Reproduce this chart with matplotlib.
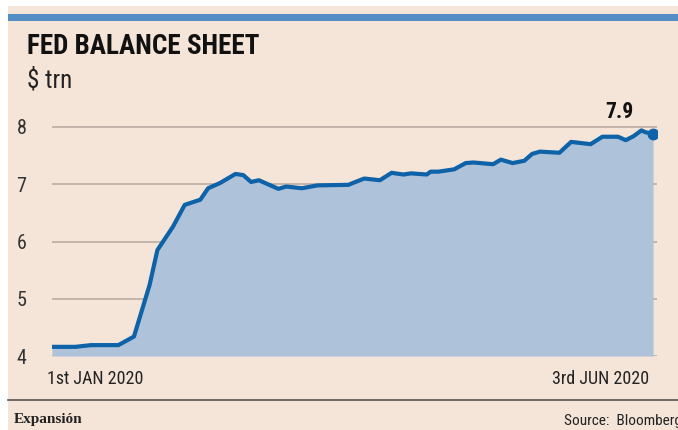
import matplotlib
matplotlib.use("Agg")
import matplotlib.pyplot as plt
from matplotlib.patches import Rectangle
from matplotlib.lines import Line2D
from matplotlib import font_manager

# days since 1 Jan 2020, balance sheet in $ trn
days = [0, 6, 10, 17, 21, 25, 27, 31, 34, 38, 40, 43, 47, 49, 51, 53, 58, 60,
        64, 68, 76, 77, 80, 84, 87, 90, 92, 96, 97, 99, 103, 106, 108, 113,
        115, 118, 121, 123, 125, 130, 133, 138, 141, 145, 147, 149, 151, 152,
        154]
values = [4.16, 4.16, 4.19, 4.19, 4.34, 5.24, 5.85, 6.26, 6.64, 6.73, 6.93,
          7.02, 7.18, 7.16, 7.04, 7.07, 6.92, 6.96, 6.93, 6.98, 6.99, 7.02,
          7.10, 7.07, 7.20, 7.17, 7.19, 7.17, 7.22, 7.22, 7.26, 7.37, 7.38,
          7.35, 7.43, 7.37, 7.41, 7.53, 7.57, 7.55, 7.74, 7.70, 7.83, 7.83,
          7.77, 7.84, 7.94, 7.91, 7.88]
yticks = [4, 5, 6, 7, 8]
start_label = "1st JAN 2020"
end_label = "3rd JUN 2020"
last_label = "7.9"

BG = "#f5e4d8"
LINE = "#0d62a8"
FILL = "#aec2da"
GRID = "#b9aca2"

names = {f.name for f in font_manager.fontManager.ttflist}
for cand in ["Liberation Sans Narrow", "Roboto Condensed", "Open Sans Condensed"]:
    if cand in names:
        narrow = cand
        break
else:
    narrow = "DejaVu Sans"
plt.rcParams["font.family"] = [narrow, "DejaVu Sans"]
plt.rcParams["font.stretch"] = "condensed"

fig = plt.figure(figsize=(6.78, 4.30), dpi=100)
fig.patch.set_facecolor("white")
W, H = 678, 430

def fx(px):
    return px / W

def fy(py):
    return 1 - py / H

# beige panel and blue bar on top
fig.patches.append(Rectangle((fx(8), 0), 1 - fx(8), fy(6), transform=fig.transFigure,
                             facecolor=BG, edgecolor="none", zorder=-2))
fig.patches.append(Rectangle((fx(8), fy(21)), 1 - fx(8), fy(14) - fy(21),
                             transform=fig.transFigure, facecolor="#548cc4",
                             edgecolor="none", zorder=-1))
fig.lines.append(Line2D([fx(8), 1], [fy(400), fy(400)], transform=fig.transFigure,
                        color="#555555", lw=1.2))

fig.text(fx(27), fy(47), "FED BALANCE SHEET", fontsize=19.5, fontweight="bold",
         va="center", ha="left", color="#111111")
fig.text(fx(27), fy(80), "$ trn", fontsize=18, va="center", ha="left",
         color="#222222")
fig.text(fx(14), fy(420), "Expansión", fontsize=11, fontweight="bold",
         family="Liberation Serif", va="center", ha="left", color="#222222")
fig.text(fx(564), fy(421), "Source:  Bloomberg", fontsize=11, va="center",
         ha="left", color="#222222")

left, right = fx(52), fx(657)
bottom = fy(356)
ymin, ymax = 4, 8.4
top = fy(127 - (ymax - 8) * 57.25)
ax = fig.add_axes([left, bottom, right - left, top - bottom])
ax.set_facecolor("none")
ax.set_xlim(0, 155)
ax.set_ylim(ymin, ymax)
for s in ax.spines.values():
    s.set_visible(False)
for t in yticks:
    ax.axhline(t, color=GRID, lw=1.2, zorder=1)

ax.fill_between(days, values, ymin, color=FILL, lw=0, zorder=2)
ax.plot(days, values, color=LINE, lw=3, solid_joinstyle="round",
        solid_capstyle="round", zorder=3)
ax.plot(days[-1], values[-1], "o", color=LINE, ms=7.5, zorder=4)
ax.annotate(last_label, (days[-1], values[-1]), xytext=(-24, 8),
            textcoords="offset points", ha="center", va="bottom",
            fontsize=15.5, fontweight="bold", color="#111111")

ax.set_xticks([])
ax.set_yticks(yticks)
ax.set_yticklabels([str(t) for t in yticks], fontsize=14.5, color="#333333")
ax.tick_params(axis="y", length=0)
for lab in ax.get_yticklabels():
    lab.set_horizontalalignment("center")
ax.tick_params(axis="y", pad=22)

ax.text(days[0] - 1.3, 3.6, start_label, ha="left", va="center", fontsize=13,
        color="#222222", clip_on=False)
ax.text(days[-1] - 1, 3.6, end_label, ha="right", va="center", fontsize=13,
        color="#222222", clip_on=False)

fig.savefig("out.png", dpi=100, facecolor=fig.get_facecolor())
